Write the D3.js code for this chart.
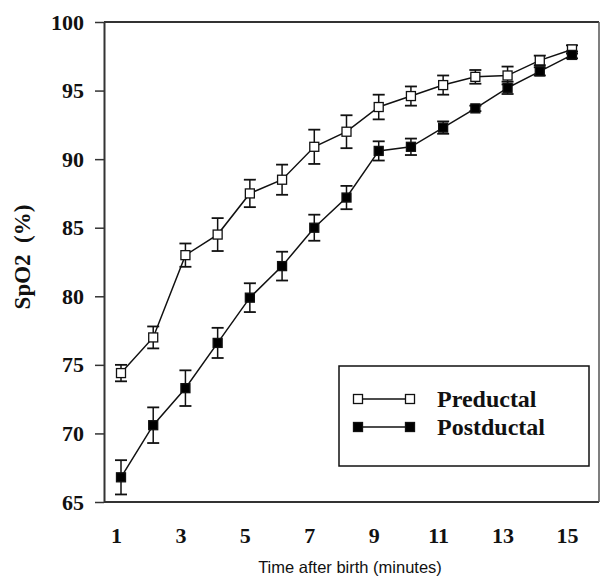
<!DOCTYPE html>
<html>
<head>
<meta charset="utf-8">
<script src="https://cdn.jsdelivr.net/npm/d3@7"></script>
<style>
  body { margin: 0; background: #fff; }
</style>
</head>
<body>
<div id="chart"></div>
<script>
// data
var minutes = [1, 2, 3, 4, 5, 6, 7, 8, 9, 10, 11, 12, 13, 14, 15];
var preMean = [74.4, 77.0, 83.0, 84.5, 87.5, 88.5, 90.9, 92.0, 93.8, 94.6, 95.4, 96.0, 96.1, 97.2, 98.0];
var preErr = [0.6, 0.8, 0.85, 1.2, 1.0, 1.1, 1.25, 1.2, 0.9, 0.7, 0.7, 0.5, 0.65, 0.35, 0.3];
var postMean = [66.8, 70.6, 73.3, 76.6, 79.9, 82.2, 85.0, 87.2, 90.6, 90.9, 92.3, 93.7, 95.2, 96.4, 97.6];
var postErr = [1.25, 1.3, 1.3, 1.1, 1.05, 1.05, 0.95, 0.85, 0.7, 0.6, 0.45, 0.2, 0.45, 0.3, 0.25];
var xTicks = [1, 3, 5, 7, 9, 11, 13, 15];
var yTicks = [65, 70, 75, 80, 85, 90, 95, 100];
var seriesNames = ["Preductal", "Postductal"];

var width = 601;
var height = 577;
var plotLeft = 104, plotRight = 599, plotTop = 22, plotBottom = 502;
var serif = "'Liberation Serif', 'Times New Roman', serif";

var svg = d3.select("#chart").append("svg")
    .attr("width", width)
    .attr("height", height);

svg.append("rect").attr("width", width).attr("height", height).attr("fill", "#fff");

var xScale = d3.scaleLinear().domain([1, 15]).range([121, 572]);
var yScale = d3.scaleLinear().domain([65, 100]).range([plotBottom, plotTop]);

// frame
svg.append("line").attr("x1", plotLeft).attr("x2", plotRight).attr("y1", plotTop).attr("y2", plotTop)
    .attr("stroke", "#333").attr("stroke-width", 2);
svg.append("line").attr("x1", plotLeft).attr("x2", plotRight).attr("y1", plotBottom).attr("y2", plotBottom)
    .attr("stroke", "#333").attr("stroke-width", 2);
svg.append("line").attr("x1", plotRight).attr("x2", plotRight).attr("y1", plotTop).attr("y2", plotBottom)
    .attr("stroke", "#555").attr("stroke-width", 1.5);

// y axis
var yAxis = svg.append("g")
    .attr("transform", "translate(" + plotLeft + ",0)")
    .call(d3.axisLeft(yScale).tickValues(yTicks).tickSize(9).tickPadding(11).tickSizeOuter(0));
yAxis.select(".domain").attr("stroke", "#333").attr("stroke-width", 2);
yAxis.selectAll(".tick line").attr("stroke", "#333").attr("stroke-width", 1.5);
yAxis.selectAll("text")
    .style("font-family", serif).style("font-size", "22px").style("font-weight", "bold").attr("fill", "#111");

// x axis (labels only)
var xAxis = svg.append("g")
    .attr("transform", "translate(0," + plotBottom + ")")
    .call(d3.axisBottom(xScale).tickValues(xTicks).tickSize(0).tickPadding(25));
xAxis.select(".domain").remove();
xAxis.selectAll("text")
    .attr("dx", -5)
    .style("font-family", serif).style("font-size", "22px").style("font-weight", "bold").attr("fill", "#111");

// axis titles
svg.append("text")
    .attr("x", 350).attr("y", 573)
    .attr("text-anchor", "middle")
    .style("font-family", "'Liberation Sans', Arial, sans-serif").style("font-size", "16.5px")
    .attr("fill", "#111")
    .text("Time after birth (minutes)");

svg.append("text")
    .attr("transform", "translate(30,257) rotate(-90)")
    .attr("text-anchor", "middle")
    .style("font-family", serif).style("font-size", "23px").style("font-weight", "bold")
    .style("white-space", "pre")
    .attr("fill", "#111")
    .text("SpO2  (%)");

var series = [
    { name: seriesNames[0], mean: preMean, err: preErr, fill: "#fff" },
    { name: seriesNames[1], mean: postMean, err: postErr, fill: "#000" }
];

var line = d3.line()
    .x(function (d) { return xScale(d.x); })
    .y(function (d) { return yScale(d.y); });

var cap = 6;
var box = 9;

series.forEach(function (s) {
    var pts = minutes.map(function (m, i) { return { x: m, y: s.mean[i], e: s.err[i] }; });
    var g = svg.append("g");

    g.append("path").datum(pts).attr("d", line)
        .attr("fill", "none").attr("stroke", "#111").attr("stroke-width", 1.5);

    var eb = g.selectAll(".eb").data(pts).enter().append("g").attr("class", "eb");
    eb.append("line")
        .attr("x1", function (d) { return xScale(d.x); }).attr("x2", function (d) { return xScale(d.x); })
        .attr("y1", function (d) { return yScale(d.y - d.e); }).attr("y2", function (d) { return yScale(d.y + d.e); })
        .attr("stroke", "#111").attr("stroke-width", 1.5);
    eb.append("line")
        .attr("x1", function (d) { return xScale(d.x) - cap; }).attr("x2", function (d) { return xScale(d.x) + cap; })
        .attr("y1", function (d) { return yScale(d.y + d.e); }).attr("y2", function (d) { return yScale(d.y + d.e); })
        .attr("stroke", "#111").attr("stroke-width", 1.8);
    eb.append("line")
        .attr("x1", function (d) { return xScale(d.x) - cap; }).attr("x2", function (d) { return xScale(d.x) + cap; })
        .attr("y1", function (d) { return yScale(d.y - d.e); }).attr("y2", function (d) { return yScale(d.y - d.e); })
        .attr("stroke", "#111").attr("stroke-width", 1.8);

    g.selectAll(".mk").data(pts).enter().append("rect")
        .attr("x", function (d) { return xScale(d.x) - box / 2; })
        .attr("y", function (d) { return yScale(d.y) - box / 2; })
        .attr("width", box).attr("height", box)
        .attr("fill", s.fill).attr("stroke", "#111").attr("stroke-width", 1.3);
});

// legend
var legend = svg.append("g");
legend.append("rect")
    .attr("x", 339).attr("y", 366).attr("width", 250).attr("height", 100)
    .attr("fill", "#fff").attr("stroke", "#111").attr("stroke-width", 1.5);

series.forEach(function (s, i) {
    var ly = 399 + i * 28;
    legend.append("line").attr("x1", 358).attr("x2", 410).attr("y1", ly).attr("y2", ly)
        .attr("stroke", "#111").attr("stroke-width", 1.3);
    [358, 410].forEach(function (lx) {
        legend.append("rect")
            .attr("x", lx - box / 2).attr("y", ly - box / 2).attr("width", box).attr("height", box)
            .attr("fill", s.fill).attr("stroke", "#111").attr("stroke-width", 1.3);
    });
    legend.append("text")
        .attr("x", 437).attr("y", ly + 7.5)
        .style("font-family", serif).style("font-size", "24px").style("font-weight", "bold")
        .attr("fill", "#111")
        .text(s.name);
});
</script>
</body>
</html>
